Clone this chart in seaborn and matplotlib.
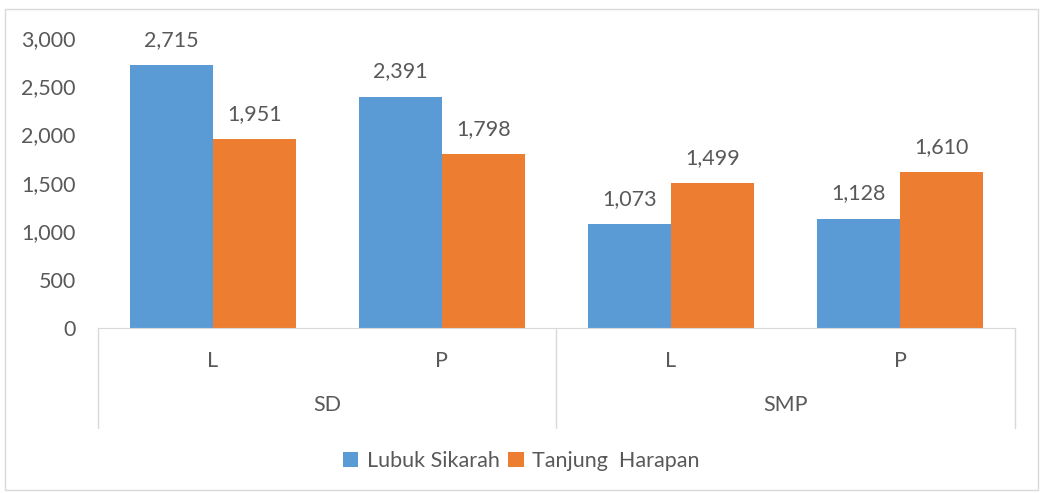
import pandas as pd
import matplotlib.pyplot as plt
import seaborn as sns
from matplotlib.patches import Rectangle

# Data
levels = ["SD", "SD", "SMP", "SMP"]
genders = ["L", "P", "L", "P"]
lubuk_sikarah = [2715, 2391, 1073, 1128]
tanjung_harapan = [1951, 1798, 1499, 1610]
series_names = ["Lubuk Sikarah", "Tanjung  Harapan"]
colors = ["#5B9BD5", "#ED7D31"]
yticks = [0, 500, 1000, 1500, 2000, 2500, 3000]

cats = [f"{lv}-{g}" for lv, g in zip(levels, genders)]
df = pd.DataFrame({
    "cat": cats * 2,
    "value": lubuk_sikarah + tanjung_harapan,
    "series": [series_names[0]] * 4 + [series_names[1]] * 4,
})

sns.set_style("white")
plt.rcParams['font.family'] = ['Lato', 'DejaVu Sans']
text_color = "#595959"
fs = 15.5

fig = plt.figure(figsize=(10.43, 4.93), dpi=100)
ax = fig.add_axes([0.094, 0.335, 0.879, 0.588])

sns.barplot(data=df, x="cat", y="value", hue="series", palette=colors,
            width=0.725, saturation=1, linewidth=0, ax=ax)

for cont in ax.containers:
    ax.bar_label(cont, labels=[f"{v:,.0f}" for v in cont.datavalues],
                 padding=11, fontsize=fs, color=text_color)

ax.set_ylim(0, 3000)
ax.set_yticks(yticks)
ax.set_yticklabels([f"{v:,}" for v in yticks], fontsize=fs, color=text_color)
ax.tick_params(axis="y", length=0, pad=16)
ax.set_xlim(-0.5, 3.5)
ax.set_xticks([])
ax.set_xlabel("")
ax.set_ylabel("")
for side in ["left", "right", "top"]:
    ax.spines[side].set_visible(False)
ax.spines["bottom"].set_color("#D9D9D9")

# multi-level category axis
trans = ax.get_xaxis_transform()
for i, g in enumerate(genders):
    ax.text(i, -0.115, g, transform=trans, ha="center", va="center",
            fontsize=fs, color=text_color)
groups = {}
for i, lv in enumerate(levels):
    groups.setdefault(lv, []).append(i)
for lv, idx in groups.items():
    ax.text(sum(idx) / len(idx), -0.265, lv, transform=trans, ha="center",
            va="center", fontsize=fs, color=text_color)
for xb in [-0.5, 1.5, 3.5]:
    ax.plot([xb, xb], [0, -0.345], transform=trans, color="#D9D9D9",
            lw=1, clip_on=False)

handles, labels = ax.get_legend_handles_labels()
ax.legend(handles, labels, loc="center", bbox_to_anchor=(0.5, 0.065),
          bbox_transform=fig.transFigure, ncol=2, frameon=False,
          fontsize=fs, handlelength=0.7, handleheight=0.7,
          columnspacing=0.4, handletextpad=0.4, labelcolor=text_color)

fig.patches.append(Rectangle((0.005, 0.006), 0.99, 0.975, transform=fig.transFigure,
                             fill=False, edgecolor="#D9D9D9", lw=1))

fig.savefig("out.png", dpi=100)
